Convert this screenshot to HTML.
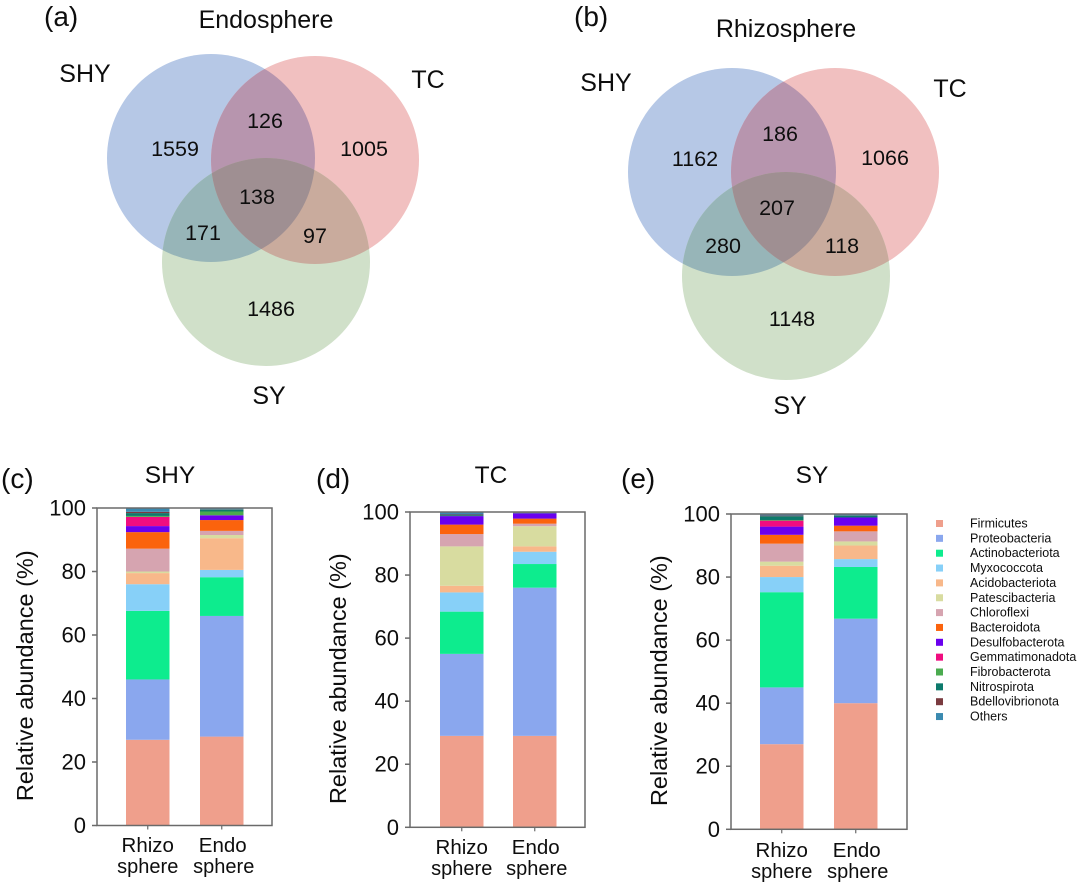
<!DOCTYPE html>
<html lang="en">
<head>
<meta charset="utf-8">
<title>Venn diagrams and relative abundance charts</title>
<style>
html,body{margin:0;padding:0;background:#fff;}
#stage{display:block;width:1080px;height:884px;}
text{font-family:"Liberation Sans",Arial,sans-serif;fill:#111;}
</style>
</head>
<body>
<svg id="stage" xmlns="http://www.w3.org/2000/svg" width="1080" height="884" viewBox="0 0 1080 884">
  <defs>
    <filter id="soft" x="-5%" y="-5%" width="110%" height="110%"><feGaussianBlur stdDeviation="0.25"/></filter>
    <clipPath id="a-shy"><circle cx="211" cy="158" r="104"/></clipPath>
    <clipPath id="a-tc"><circle cx="315" cy="160" r="104"/></clipPath>
    <clipPath id="b-shy"><circle cx="732" cy="172" r="104"/></clipPath>
    <clipPath id="b-tc"><circle cx="835" cy="172" r="104"/></clipPath>
  </defs>
  <rect width="1080" height="884" fill="#fff"/>
  <g filter="url(#soft)">
  <g>
    <circle cx="211" cy="158" r="104" fill="#b6c8e6"/>
    <circle cx="315" cy="160" r="104" fill="#f1c0c0"/>
    <circle cx="266" cy="262" r="104" fill="#d0e0c9"/>
    <g clip-path="url(#a-shy)"><circle cx="315" cy="160" r="104" fill="#b795ae"/></g>
    <g clip-path="url(#a-shy)"><circle cx="266" cy="262" r="104" fill="#97b5b8"/></g>
    <g clip-path="url(#a-tc)"><circle cx="266" cy="262" r="104" fill="#c9ab9d"/></g>
    <g clip-path="url(#a-shy)"><g clip-path="url(#a-tc)"><circle cx="266" cy="262" r="104" fill="#9f8f92"/></g></g>
    <text x="44" y="26" font-size="28">(a)</text>
    <text x="266" y="28" font-size="25" text-anchor="middle">Endosphere</text>
    <text x="85" y="82" font-size="25" text-anchor="middle">SHY</text>
    <text x="428" y="88" font-size="25" text-anchor="middle">TC</text>
    <text x="269" y="404" font-size="25" text-anchor="middle">SY</text>
    <g font-size="21.5" text-anchor="middle">
      <text x="175" y="156">1559</text>
      <text x="265" y="128">126</text>
      <text x="364" y="156">1005</text>
      <text x="257" y="204">138</text>
      <text x="203" y="240">171</text>
      <text x="315" y="243">97</text>
      <text x="271" y="316">1486</text>
    </g>
  </g>
  <g>
    <circle cx="732" cy="172" r="104" fill="#b6c8e6"/>
    <circle cx="835" cy="172" r="104" fill="#f1c0c0"/>
    <circle cx="786" cy="276" r="104" fill="#d0e0c9"/>
    <g clip-path="url(#b-shy)"><circle cx="835" cy="172" r="104" fill="#b795ae"/></g>
    <g clip-path="url(#b-shy)"><circle cx="786" cy="276" r="104" fill="#97b5b8"/></g>
    <g clip-path="url(#b-tc)"><circle cx="786" cy="276" r="104" fill="#c9ab9d"/></g>
    <g clip-path="url(#b-shy)"><g clip-path="url(#b-tc)"><circle cx="786" cy="276" r="104" fill="#9f8f92"/></g></g>
    <text x="574" y="26" font-size="28">(b)</text>
    <text x="786" y="37" font-size="25" text-anchor="middle">Rhizosphere</text>
    <text x="606" y="91" font-size="25" text-anchor="middle">SHY</text>
    <text x="950" y="97" font-size="25" text-anchor="middle">TC</text>
    <text x="790" y="414" font-size="25" text-anchor="middle">SY</text>
    <g font-size="21.5" text-anchor="middle">
      <text x="695" y="166">1162</text>
      <text x="780" y="141">186</text>
      <text x="885" y="165">1066</text>
      <text x="777" y="215">207</text>
      <text x="723" y="253">280</text>
      <text x="842" y="253">118</text>
      <text x="792" y="326">1148</text>
    </g>
  </g>
  <g id="charts"></g>
  <g id="legend"></g>
  </g>
</svg>
<script>
const phyla = ['Firmicutes','Proteobacteria','Actinobacteriota','Myxococcota','Acidobacteriota','Patescibacteria','Chloroflexi','Bacteroidota','Desulfobacterota','Gemmatimonadota','Fibrobacterota','Nitrospirota','Bdellovibrionota','Others'];
const phylaColors = ['#ef9f8c','#8aa7ee','#10ec8e','#87d0f8','#f8b88a','#d8dca0','#d6a4b0','#fb6408','#6a04ee','#f00a80','#4cab50','#0f7a6c','#7a3a40','#3a8ab0'];
const barLabels = ['Rhizo','Endo'];
const tickValues = [0,20,40,60,80,100];

const shyRhizo = [27,19,21.6,8.4,3.5,0.5,7.2,5.2,1.9,2.9,0.3,0.9,0.4,1.2];
const shyEndo  = [28,38,12.2,2.3,10,1,1.3,3.4,1.5,0,1.2,0.6,0.1,0.4];
const tcRhizo  = [29,26,13.4,6.1,2.1,12.5,3.9,3,2.7,0,0,0.3,0.2,0.8];
const tcEndo   = [29,47,7.5,3.9,1.7,6.4,0.8,1.6,1.7,0,0,0.1,0.1,0.2];
const syRhizo  = [27,18,30.2,4.8,3.6,1.3,5.7,2.8,2.6,1.9,0.2,1.2,0.2,0.5];
const syEndo   = [40,26.8,16.4,2.5,4.3,1.3,3.2,1.8,2.6,0,0,0.6,0.1,0.4];

const panels = [
  {id:'c',letter:'(c)',title:'SHY',series:[shyRhizo,shyEndo],left:97,right:272,top:508,bottom:825.5,bars:[126,200],lx:1,ly:488,tx:170,ty:483,ytx:33,lbl1:852,lbl2:873},
  {id:'d',letter:'(d)',title:'TC',series:[tcRhizo,tcEndo],left:410,right:585,top:512,bottom:827.3,bars:[440,513],lx:316,ly:488,tx:491,ty:483,ytx:346,lbl1:854,lbl2:875},
  {id:'e',letter:'(e)',title:'SY',series:[syRhizo,syEndo],left:731,right:907,top:514,bottom:829.3,bars:[760,834],lx:621,ly:488,tx:812,ty:483,ytx:667,lbl1:857,lbl2:878}
];
const barWidth = 43.5;
const NS = 'http://www.w3.org/2000/svg';
const chartsRoot = document.getElementById('charts');
const legendRoot = document.getElementById('legend');

function mk(parent, tag, attrs, text){
  const n = document.createElementNS(NS, tag);
  for (const k in attrs) n.setAttribute(k, attrs[k]);
  if (text !== undefined) n.textContent = text;
  parent.appendChild(n);
  return n;
}

panels.forEach(function(p){
  const yScale = function(v){ return p.bottom - (v/100)*(p.bottom - p.top); };
  const g = mk(chartsRoot,'g',{});
  
  

  const letter = mk(g,'text',{x:p.lx,y:p.ly,'font-size':28},p.letter);
  
  

  const title = mk(g,'text',{x:p.tx,y:p.ty,'font-size':24.5,'text-anchor':'middle'},p.title);
  
  

  p.series.forEach(function(vals,bi){
    let acc = 0;
    vals.forEach(function(v,si){
      if (v <= 0) return;
      const r = mk(g,'rect',{x:p.bars[bi],y:yScale(acc+v),width:barWidth,height:yScale(acc)-yScale(acc+v),fill:phylaColors[si]});
      
      
      acc += v;
    });
  });

  const frame = mk(g,'rect',{x:p.left,y:p.top,width:p.right-p.left,height:p.bottom-p.top,fill:'none',stroke:'#6a6a6a','stroke-width':1.5});
  
  

  tickValues.forEach(function(t){
    const y = yScale(t);
    const tick = mk(g,'line',{x1:p.left-5,x2:p.left,y1:y,y2:y,stroke:'#6a6a6a','stroke-width':1.5});
    
    
    const lab = mk(g,'text',{x:p.left-11,y:y+7.5,'font-size':22,'text-anchor':'end'},t);
    
    
  });

  barLabels.forEach(function(name,bi){
    const cx = p.bars[bi] + barWidth/2;
    const tick = mk(g,'line',{x1:cx,x2:cx,y1:p.bottom,y2:p.bottom+4,stroke:'#6a6a6a','stroke-width':1.2});
    
    
    const t1 = mk(g,'text',{x:cx+(bi?1:0),y:p.lbl1,'font-size':20.5,'text-anchor':'middle'},name);
    
    
    const t2 = mk(g,'text',{x:cx+(bi?2:0),y:p.lbl2,'font-size':20,'text-anchor':'middle'},'sphere');
    
    
  });

  const cy = (p.top + p.bottom)/2 + 9;
  const yTitle = mk(g,'text',{x:p.ytx,y:cy,'font-size':23.5,'text-anchor':'middle',transform:'rotate(-90 '+p.ytx+' '+cy+')'},'Relative abundance (%)');
  
  
});

phyla.forEach(function(name,i){
  const y = 523.5 + i*14.85;
  const swatch = mk(legendRoot,'rect',{x:936,y:y-3.5,width:7,height:7,fill:phylaColors[i]});
  
  
  const label = mk(legendRoot,'text',{x:970,y:y+4,'font-size':12.5},name);
  
  
});
</script>
</body>
</html>
